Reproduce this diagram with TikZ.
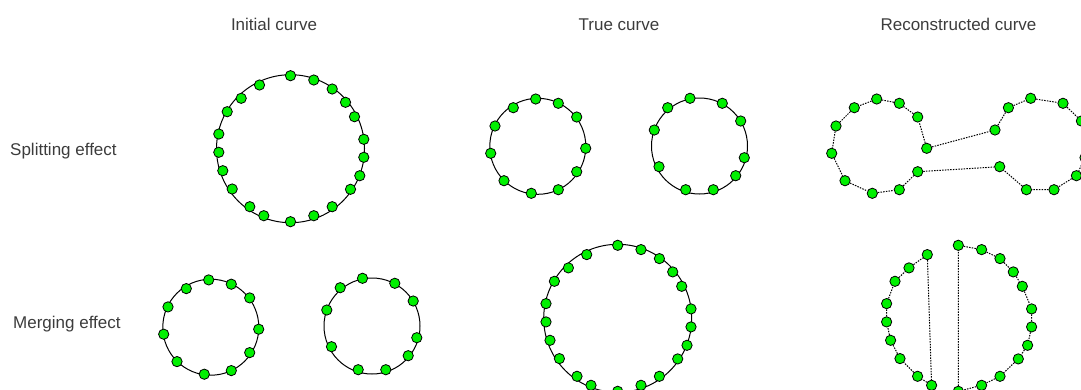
\documentclass[tikz,border=0pt]{standalone}
\usepackage{fontspec}
\setmainfont{Liberation Sans}
\definecolor{ptgreen}{RGB}{0,240,0}
\definecolor{lblgray}{RGB}{60,60,60}
% relative point patterns (pixel units, y downward)
\newcommand{\bigpattern}{0/-73, 23.3/-68.7, 41.7/-59.7, 55/-46.4, 64/-32, 73.3/-9.4, 73.3/8.6, 69.3/27, 60/40.6, 41.7/58, 23.3/67, 0/73, -26.7/67, -40.7/58, -58.3/40.3, -67.7/22, -71.7/3.6, -71.7/-14.7, -63.3/-37, -49.3/-50.4, -31/-63.7}
\newcommand{\patA}{-2.1/-47.3, 20.5/-43, 38.9/-29.3, 47.9/2, 38.9/25.4, 20.5/43.4, -6.5/47, -33.8/34.4, -47.1/7, -42.8/-20.3, -24.5/-38.6}
\newcommand{\patB}{-9.5/-47.7, 22.8/-42.7, 41.2/-25, 44.8/11.7, 36.2/29.7, 13.8/43.7, -13.8/43.7, -40.5/20.7, -45.2/-16, -31.8/-38.3}
\newcommand{\placepts}[3]{%
  \begin{scope}[shift={#2}]
    \foreach \dx/\dy [count=\i] in #3 {\node[pt] (#1\i) at (\dx,\dy) {};}
  \end{scope}}
\begin{document}
\begin{tikzpicture}[x=1pt,y=-1pt,
  pt/.style={circle,draw=black,line width=0.8pt,fill=ptgreen,minimum size=10.3pt,inner sep=0pt},
  curve/.style={draw=black,line width=1pt},
  recon/.style={draw=black,line width=1pt,dash pattern=on 1.5pt off 1.2pt},
  lbl/.style={text=lblgray,font=\fontsize{17}{20}\selectfont,inner sep=0pt}]
\useasboundingbox (0,0) rectangle (1081,389);

% labels
\node[lbl,anchor=base] (h1) at (274,30) {Initial curve};
\node[lbl,anchor=base] (h2) at (619,30) {True curve};
\node[lbl,anchor=base] (h3) at (958.5,30) {Reconstructed curve};
\node[lbl,anchor=base west] (r1) at (10,155) {Splitting effect};
\node[lbl,anchor=base west] (r2) at (13,328) {Merging effect};

% ---- Splitting effect ----
\draw[curve] (290.5,148.7) circle[radius=74];
\placepts{si}{(290.5,148.7)}{\bigpattern}

\draw[curve] (537.8,146.3) circle[radius=48];
\placepts{ta}{(537.8,146.3)}{\patA}
\draw[curve] (699.5,146) circle[radius=48];
\placepts{tb}{(699.5,146)}{\patB}

\placepts{ra}{(878.8,146.3)}{\patA}
\placepts{rb}{(1040.2,146)}{\patB}
\draw[recon] (ra4) -- (ra3) -- (ra2) -- (ra1) -- (ra11) -- (ra10) -- (ra9)
  -- (ra8) -- (ra7) -- (ra6) -- (ra5);
\draw[recon] (rb9) -- (rb10) -- (rb1) -- (rb2) -- (rb3) -- (rb4) -- (rb5)
  -- (rb6) -- (rb7) -- (rb8);
\draw[recon] (ra4) -- (rb9);
\draw[recon] (ra5) -- (rb8);

% ---- Merging effect ----
\draw[curve] (210.8,327.2) circle[radius=48];
\placepts{ma}{(210.8,327.2)}{\patA}
\draw[curve] (372,326) circle[radius=48];
\placepts{mb}{(372,326)}{\patB}

\draw[curve] (617.7,318.3) circle[radius=74];
\placepts{mt}{(617.7,318.3)}{\bigpattern}

\placepts{rm}{(958.3,318.3)}{\bigpattern}
\draw[recon] (rm1) -- (rm2) -- (rm3) -- (rm4) -- (rm5) -- (rm6) -- (rm7)
  -- (rm8) -- (rm9) -- (rm10) -- (rm11) -- (rm12) -- (rm1);
\draw[recon] (rm13) -- (rm14) -- (rm15) -- (rm16) -- (rm17) -- (rm18)
  -- (rm19) -- (rm20) -- (rm21) -- (rm13);
\end{tikzpicture}
\end{document}
